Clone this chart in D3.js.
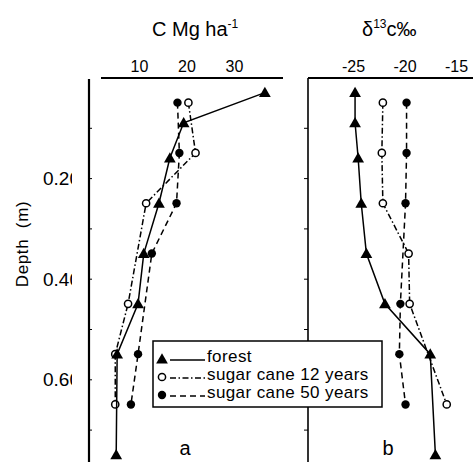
<!DOCTYPE html>
<html>
<head>
<meta charset="utf-8">
<script src="https://cdn.jsdelivr.net/npm/d3@7"></script>
<style>
  body { margin: 0; background: #fff; }
  svg { display: block; font-family: "Liberation Sans", Arial, sans-serif; }
</style>
</head>
<body>
<div id="chart"></div>
<script>
// depths (m) for each series
const forestDepth = [0.03, 0.09, 0.16, 0.25, 0.35, 0.45, 0.55, 0.75];
const cane12DepthA = [0.05, 0.15, 0.25, 0.45, 0.55, 0.65];
const cane50DepthA = [0.05, 0.15, 0.25, 0.35, 0.55, 0.65];
const cane12DepthB = [0.05, 0.15, 0.25, 0.35, 0.45, 0.65];
const cane50DepthB = [0.05, 0.15, 0.25, 0.45, 0.55, 0.65];

// panel a: C (Mg/ha)
const forestC = [36.5, 19.4, 16.5, 14.2, 11.0, 9.8, 5.4, 5.2];
const cane12C = [20.4, 21.9, 11.5, 7.7, 5.0, 5.0];
const cane50C = [18.1, 18.5, 17.9, 12.7, 9.8, 8.3];

// panel b: delta 13C (per mil)
const forestD13 = [-24.8, -24.8, -24.5, -24.2, -23.7, -21.9, -17.5, -17.0];
const cane12D13 = [-22.1, -22.2, -22.1, -19.6, -19.5, -15.9];
const cane50D13 = [-19.8, -19.8, -19.9, -20.4, -20.5, -19.9];

const cTicks = [10, 20, 30];
const d13Ticks = [-25, -20, -15];
const depthTicks = [0.2, 0.4, 0.6];
const legendLabels = ["forest", "sugar cane 12 years", "sugar cane 50 years"];

const width = 473, height = 462;

const svg = d3.select("#chart").append("svg")
  .attr("width", width)
  .attr("height", height);

const y = d3.scaleLinear().domain([0, 0.7]).range([77.5, 429.6]);
const xA = d3.scaleLinear().domain([10, 30]).range([139, 234]);
const xB = d3.scaleLinear().domain([-25, -15]).range([353, 456]);

const styles = [
  { dash: null, marker: "tri" },
  { dash: "6,2.5,1.5,2.5", marker: "open" },
  { dash: "6,4", marker: "dot" },
];

function drawMarker(g, kind, cx, cy) {
  if (kind === "tri") {
    g.append("path")
      .attr("d", d3.symbol(d3.symbolTriangle, 60)())
      .attr("transform", `translate(${cx},${cy + 1})`)
      .attr("fill", "#000");
  } else if (kind === "open") {
    g.append("circle").attr("cx", cx).attr("cy", cy).attr("r", 3.6)
      .attr("fill", "#fff").attr("stroke", "#000").attr("stroke-width", 1.5);
  } else {
    g.append("circle").attr("cx", cx).attr("cy", cy).attr("r", 4.2)
      .attr("fill", "#000");
  }
}

function drawSeries(x, depths, vals, st) {
  const pts = depths.map((d, i) => [x(vals[i]), y(d)]);
  const line = d3.line();
  svg.append("path")
    .attr("d", line(pts))
    .attr("fill", "none")
    .attr("stroke", "#000")
    .attr("stroke-width", 1.5)
    .attr("stroke-dasharray", st.dash);
  const g = svg.append("g");
  pts.forEach(p => drawMarker(g, st.marker, p[0], p[1]));
}

// panel a
drawSeries(xA, cane12DepthA, cane12C, styles[1]);
drawSeries(xA, cane50DepthA, cane50C, styles[2]);
drawSeries(xA, forestDepth, forestC, styles[0]);
// panel b
drawSeries(xB, cane12DepthB, cane12D13, styles[1]);
drawSeries(xB, cane50DepthB, cane50D13, styles[2]);
drawSeries(xB, forestDepth, forestD13, styles[0]);

// top axes
const axA = svg.append("g").attr("transform", "translate(0,72)")
  .call(d3.axisTop(xA).tickValues(cTicks).tickSize(0).tickPadding(0));
const axB = svg.append("g").attr("transform", "translate(0,72)")
  .call(d3.axisTop(xB).tickValues(d13Ticks).tickSize(0).tickPadding(0)
    .tickFormat(d => "-" + Math.abs(d)));
[axA, axB].forEach(ax => {
  ax.select(".domain").remove();
  ax.selectAll("text").attr("font-size", 16).attr("fill", "#000")
    .attr("font-family", "Liberation Sans, Arial, sans-serif");
});

svg.append("line").attr("x1", 101).attr("x2", 283).attr("y1", 78).attr("y2", 78)
  .attr("stroke", "#000").attr("stroke-width", 2);
svg.append("line").attr("x1", 308).attr("x2", 473).attr("y1", 78).attr("y2", 78)
  .attr("stroke", "#000").attr("stroke-width", 2);

// left axis lines
svg.append("line").attr("x1", 89).attr("x2", 89).attr("y1", 79).attr("y2", 462)
  .attr("stroke", "#000").attr("stroke-width", 2.2);
svg.append("line").attr("x1", 308).attr("x2", 308).attr("y1", 78).attr("y2", 462)
  .attr("stroke", "#000").attr("stroke-width", 1.6);

// minor depth ticks
const minor = d3.range(1, 8).map(i => i / 10);
svg.append("g").attr("transform", "translate(89,0)")
  .call(d3.axisRight(y).tickValues(minor).tickSize(3).tickFormat(""))
  .call(g => g.select(".domain").remove());
svg.append("g").attr("transform", "translate(308,0)")
  .call(d3.axisLeft(y).tickValues(minor).tickSize(4).tickFormat(""))
  .call(g => g.select(".domain").remove());

// depth labels, cut off on the right like the scan
svg.append("clipPath").attr("id", "lblclip")
  .append("rect").attr("x", 0).attr("y", 0).attr("width", 72).attr("height", height);
svg.append("g").attr("clip-path", "url(#lblclip)")
  .selectAll("text").data(depthTicks).join("text")
  .attr("x", 43).attr("y", d => y(d) + 7)
  .attr("font-size", 19)
  .text(d => d.toFixed(2));

svg.append("text")
  .attr("transform", "translate(28,244) rotate(-90)")
  .attr("text-anchor", "middle")
  .attr("font-size", 17)
  .attr("letter-spacing", 0.6)
  .attr("xml:space", "preserve")
  .text("Depth  (m)");

// titles
const t1 = svg.append("text").attr("x", 152).attr("y", 36).attr("font-size", 20);
t1.append("tspan").text("C Mg ha");
t1.append("tspan").attr("dy", -8).attr("font-size", 12).text("-1");

const t2 = svg.append("text").attr("x", 362).attr("y", 36).attr("font-size", 20);
t2.append("tspan").text("δ");
t2.append("tspan").attr("dy", -8).attr("font-size", 12).text("13");
t2.append("tspan").attr("dy", 8).text("c‰");

// panel letters
svg.append("text").attr("x", 185).attr("y", 455).attr("text-anchor", "middle")
  .attr("font-size", 20).text("a");
svg.append("text").attr("x", 388).attr("y", 455).attr("text-anchor", "middle")
  .attr("font-size", 20).text("b");

// legend
const leg = svg.append("g");
leg.append("rect").attr("x", 153).attr("y", 341).attr("width", 229).attr("height", 66)
  .attr("fill", "#fff").attr("stroke", "#000").attr("stroke-width", 1.5);
legendLabels.forEach((lab, i) => {
  const cy = 357 + i * 18;
  drawMarker(leg, styles[i].marker, 162, cy + 2);
  leg.append("line").attr("x1", 170).attr("x2", 205).attr("y1", cy + 3).attr("y2", cy + 3)
    .attr("stroke", "#000").attr("stroke-width", 1.3)
    .attr("stroke-dasharray", styles[i].dash);
  leg.append("text").attr("x", 207).attr("y", cy + 5).attr("font-size", 17)
    .attr("letter-spacing", 0.4)
    .text(lab);
});
</script>
</body>
</html>
